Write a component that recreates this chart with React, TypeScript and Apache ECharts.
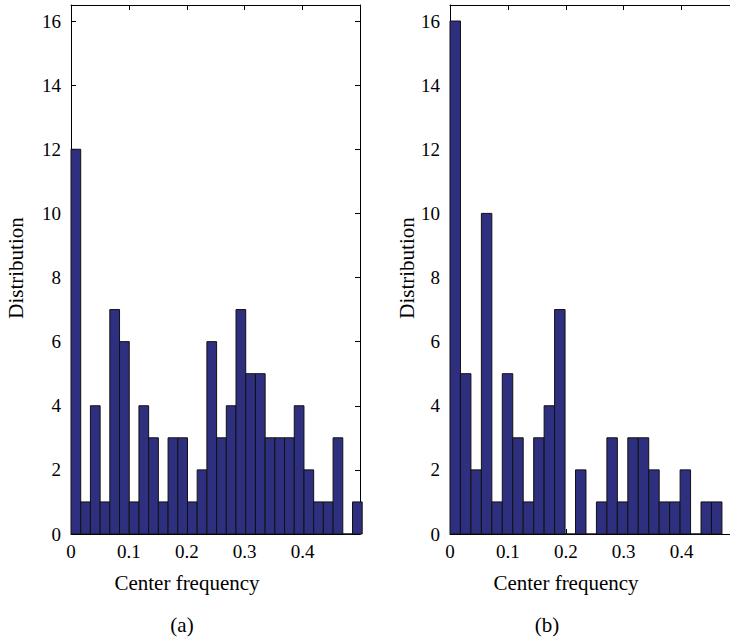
import React, { useEffect, useRef } from "react";
import * as echarts from "echarts";

// Histogram counts
const countsA = [12, 1, 4, 1, 7, 6, 1, 4, 3, 1, 3, 3, 1, 2, 6, 3, 4, 7, 5, 5, 3, 3, 3, 4, 2, 1, 1, 3, 0, 1];
const countsB = [16, 5, 2, 10, 1, 5, 3, 1, 3, 4, 7, 0, 2, 0, 1, 3, 1, 3, 3, 2, 1, 1, 2, 0, 1, 1];
const binWidthA = 0.01676;
const binWidthB = 0.01806;
const xTickLabels = ["0", "0.1", "0.2", "0.3", "0.4"];
const yTickLabels = ["0", "2", "4", "6", "8", "10", "12", "14", "16"];
const xLabel = "Center frequency";
const yLabel = "Distribution";
const panelLabels = ["(a)", "(b)"];

const FONT = "Times New Roman, Liberation Serif, DejaVu Serif, serif";
const BAR = "#2f2f80";

function binsOf(counts: number[], w: number) {
  return counts.map((c, i) => [i * w, (i + 1) * w, c]);
}

export default function App() {
  const ref = useRef<HTMLDivElement>(null);
  useEffect(() => {
    if (!ref.current) return;
    const chart = echarts.init(ref.current, null, { renderer: "svg" });
    const grids = [
      { left: 71, top: 5, width: 289, height: 529 },
      { left: 450, top: 5, width: 289, height: 529 },
    ];
    const xFmt = (v: number) => {
      const r = Math.round(v * 10) / 10;
      const s = String(r);
      return Math.abs(v - r) < 1e-6 && xTickLabels.includes(s) ? s : "";
    };
    const yFmt = (v: number) => {
      const s = String(Math.round(v * 10) / 10);
      return yTickLabels.includes(s) ? s : "";
    };
    const xAxes: any[] = [];
    const yAxes: any[] = [];
    [0, 1].forEach((g) => {
      const xmax = 0.499;
      ["bottom", "top"].forEach((pos) => {
        xAxes.push({
          type: "value",
          gridIndex: g,
          position: pos,
          min: 0,
          max: xmax,
          interval: 0.1,
          splitLine: { show: false },
          axisLine: { show: true, onZero: false, lineStyle: { color: "#000", width: 1 } },
          axisTick: { show: true, inside: true, length: 5, lineStyle: { color: "#000" } },
          axisLabel: {
            show: pos === "bottom",
            formatter: xFmt,
            color: "#000",
            fontFamily: FONT,
            fontSize: 19,
            margin: 8,
            hideOverlap: false,
            showMaxLabel: true,
            showMinLabel: true,
          },
        });
      });
      ["left", "right"].forEach((pos) => {
        yAxes.push({
          type: "value",
          gridIndex: g,
          position: pos,
          min: 0,
          max: 16.5,
          interval: 2,
          splitLine: { show: false },
          axisLine: { show: true, onZero: false, lineStyle: { color: "#000", width: 1 } },
          axisTick: { show: true, inside: true, length: 5, lineStyle: { color: "#000" } },
          axisLabel: {
            show: pos === "left",
            formatter: yFmt,
            color: "#000",
            fontFamily: FONT,
            fontSize: 19,
            margin: 10,
            hideOverlap: false,
          },
        });
      });
    });

    const makeSeries = (counts: number[], w: number, g: number) => ({
      type: "custom",
      xAxisIndex: g * 2,
      yAxisIndex: g * 2,
      data: binsOf(counts, w),
      renderItem: (params: any, api: any) => {
        const p0 = api.coord([api.value(0), 0]);
        const p1 = api.coord([api.value(1), api.value(2)]);
        return {
          type: "rect",
          shape: { x: p0[0], y: p1[1], width: p1[0] - p0[0], height: p0[1] - p1[1] },
          style: { fill: BAR, stroke: "#111", lineWidth: 1 },
        };
      },
    });

    const txt = (text: string, x: number, y: number, size: number, rot = 0) => ({
      type: "text",
      x,
      y,
      rotation: rot,
      style: {
        text,
        fill: "#000",
        fontFamily: FONT,
        fontSize: size,
        align: "center",
        verticalAlign: "middle",
      },
    });

    chart.setOption({
      animation: false,
      backgroundColor: "#fff",
      textStyle: { fontFamily: FONT },
      grid: grids,
      xAxis: xAxes,
      yAxis: yAxes,
      series: [makeSeries(countsA, binWidthA, 0), makeSeries(countsB, binWidthB, 1)],
      graphic: [
        txt(yLabel, 16, 268, 21, Math.PI / 2),
        txt(yLabel, 407, 268, 21, Math.PI / 2),
        txt(xLabel, 187, 583, 21),
        txt(xLabel, 566, 583, 21),
        txt(panelLabels[0], 182, 625, 21),
        txt(panelLabels[1], 547, 625, 21),
      ],
    });
    return () => chart.dispose();
  }, []);
  return (
    <div
      style={{ position: "absolute", left: 0, top: 0, width: 730, height: 639, overflow: "hidden" }}
    >
      <div ref={ref} style={{ width: 760, height: 639 }} />
    </div>
  );
}
